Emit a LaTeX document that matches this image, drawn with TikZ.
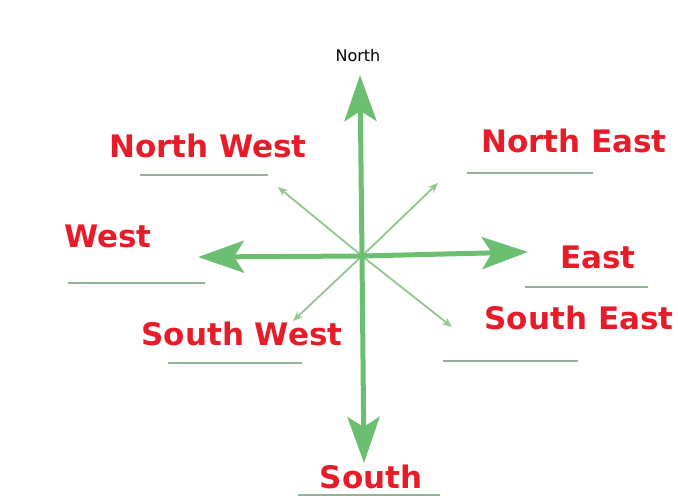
\documentclass[tikz,border=0pt]{standalone}
\usepackage{fontspec}
\setmainfont{DejaVu Sans}
\usetikzlibrary{arrows.meta}
\definecolor{arrowgreen}{RGB}{108,190,112}
\definecolor{diaggreen}{RGB}{145,198,145}
\definecolor{linegray}{RGB}{150,178,150}
\definecolor{labelred}{RGB}{232,28,40}

\begin{document}
\begin{tikzpicture}[x=1pt, y=-1pt,
  dirlabel/.style={anchor=base, text=labelred,
                   font=\fontsize{31}{36}\selectfont\bfseries},
  mainarr/.style={-{Stealth[length=46pt, width=32pt, inset=10pt]},
                  line width=5pt, arrowgreen},
  diagarr/.style={-{Stealth[length=10pt, width=8pt]}, line width=1.8pt, diaggreen},
  uline/.style={line width=1.6pt, linegray}
]
\useasboundingbox (0,0) rectangle (678,499);

% Centre and arrow ends
\coordinate (O) at (362,256);
\coordinate (tipN) at (360,75);
\coordinate (tipS) at (364,463);
\coordinate (tipW) at (198,257);
\coordinate (tipE) at (528,252);
\coordinate (tipNW) at (278,187);
\coordinate (tipNE) at (438,183);
\coordinate (tipSW) at (293,321);
\coordinate (tipSE) at (452,327);

% Diagonal arrows
\draw[diagarr] (O) -- (tipNW);
\draw[diagarr] (O) -- (tipNE);
\draw[diagarr] (O) -- (tipSW);
\draw[diagarr] (O) -- (tipSE);

% Main arrows
\draw[mainarr] (O) -- (tipN);
\draw[mainarr] (O) -- (tipS);
\draw[mainarr] (O) -- (tipW);
\draw[mainarr] (O) -- (tipE);

% Labels
\node[anchor=base, font=\fontsize{16}{19}\selectfont] (north) at (358,61) {North};
\node[dirlabel] (nw) at (208,157) {North West};
\node[dirlabel] (ne) at (574,152) {North East};
\node[dirlabel] (w) at (108,247) {West};
\node[dirlabel] (e) at (598,268) {East};
\node[dirlabel] (sw) at (242,345) {South West};
\node[dirlabel] (se) at (579,329) {South East};
\node[dirlabel] (s) at (371,488) {South};

% Underlines
\coordinate (nwA) at (140,175); \coordinate (nwB) at (268,175);
\coordinate (neA) at (467,173); \coordinate (neB) at (593,173);
\coordinate (wA) at (68,283);   \coordinate (wB) at (205,283);
\coordinate (eA) at (525,287);  \coordinate (eB) at (648,287);
\coordinate (swA) at (168,363); \coordinate (swB) at (302,363);
\coordinate (seA) at (443,361); \coordinate (seB) at (578,361);
\coordinate (sA) at (298,495);  \coordinate (sB) at (440,495);
\draw[uline] (nwA) -- (nwB);
\draw[uline] (neA) -- (neB);
\draw[uline] (wA) -- (wB);
\draw[uline] (eA) -- (eB);
\draw[uline] (swA) -- (swB);
\draw[uline] (seA) -- (seB);
\draw[uline] (sA) -- (sB);

\end{tikzpicture}
\end{document}
